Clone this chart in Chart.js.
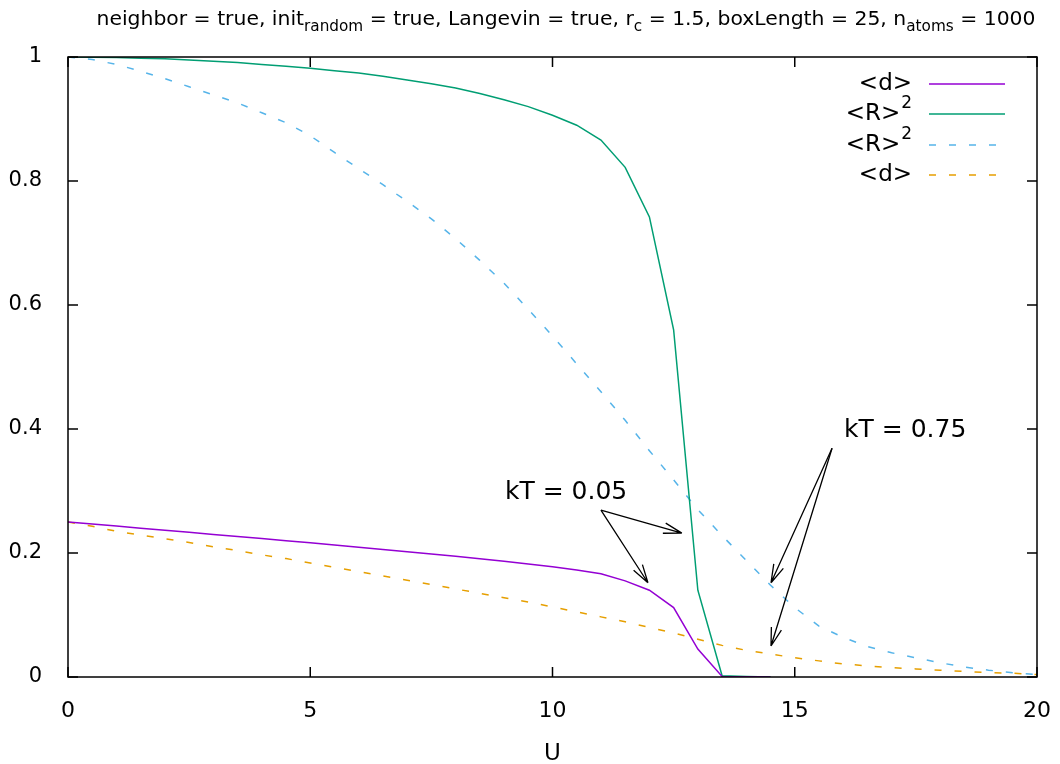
<!DOCTYPE html>
<html>
<head>
<meta charset="utf-8">
<script src="https://cdn.jsdelivr.net/npm/chart.js@4/dist/chart.umd.min.js"></script>
<style>
  html, body { margin: 0; padding: 0; background: #fff; }
  #wrap { width: 1060px; height: 764px; }
</style>
</head>
<body>
<div id="wrap"><canvas id="myChart"></canvas></div>
<script>
// kT = 0.05 (solid lines)
const uCold = [0, 0.5, 1, 1.5, 2, 2.5, 3, 3.5, 4, 4.5, 5, 5.5, 6, 6.5, 7, 7.5, 8, 8.5, 9, 9.5,
               10, 10.5, 11, 11.5, 12, 12.5, 13, 13.5, 14, 14.5];
const dCold = [0.250, 0.2467, 0.2434, 0.2401, 0.2367, 0.2333, 0.2300, 0.2266, 0.2232, 0.2198,
               0.2164, 0.2129, 0.2094, 0.2058, 0.2022, 0.1985, 0.1947, 0.1907, 0.1866, 0.1823,
               0.1777, 0.1725, 0.1664, 0.155, 0.140, 0.112, 0.045, 0.001, 0.0005, 0];
const rCold = [1.0, 0.9995, 0.999, 0.998, 0.997, 0.995, 0.993, 0.991, 0.988, 0.985,
               0.982, 0.978, 0.974, 0.969, 0.963, 0.957, 0.950, 0.941, 0.931, 0.920,
               0.906, 0.890, 0.866, 0.822, 0.742, 0.560, 0.140, 0.002, 0.001, 0];

// kT = 0.75 (dashed lines)
const uHot = [0, 0.5, 1, 1.5, 2, 2.5, 3, 3.5, 4, 4.5, 5, 5.5, 6, 6.5, 7, 7.5, 8, 8.5, 9, 9.5,
              10, 10.5, 11, 11.5, 12, 12.5, 13, 13.5, 14, 14.5, 15, 15.5, 16, 16.5, 17, 17.5,
              18, 18.5, 19, 19.5, 20];
const rHot = [1.0, 0.996, 0.988, 0.977, 0.965, 0.952, 0.939, 0.926, 0.910, 0.894,
              0.873, 0.846, 0.820, 0.794, 0.767, 0.739, 0.707, 0.672, 0.635, 0.593,
              0.550, 0.505, 0.460, 0.414, 0.365, 0.318, 0.270, 0.228, 0.188, 0.148,
              0.112, 0.082, 0.064, 0.049, 0.039, 0.031, 0.023, 0.016, 0.011, 0.007, 0.004];
const dHot = [0.250, 0.243, 0.235, 0.229, 0.223, 0.217, 0.210, 0.204, 0.197, 0.191,
              0.184, 0.177, 0.170, 0.163, 0.156, 0.149, 0.142, 0.135, 0.128, 0.121,
              0.113, 0.105, 0.097, 0.089, 0.080, 0.071, 0.061, 0.051, 0.043, 0.037,
              0.031, 0.026, 0.021, 0.018, 0.015, 0.013, 0.011, 0.009, 0.007, 0.006, 0.004];

const xTicks = [0, 5, 10, 15, 20];
const yTicks = [0, 0.2, 0.4, 0.6, 0.8, 1];

const legendLabels = ['<d>', '<R>', '<R>', '<d>'];
const legendSup = ['', '2', '2', ''];

// annotations: label position and arrow [from, to] in data coords
const notes = [
  {text: 'kT = 0.05', at: [10.28, 0.297], arrows: [[[11.0, 0.269], [11.97, 0.152]], [[11.0, 0.269], [12.67, 0.232]]]},
  {text: 'kT = 0.75', at: [17.28, 0.398], arrows: [[[15.77, 0.369], [14.51, 0.152]], [[15.77, 0.369], [14.51, 0.05]]]},
];

const FONT = '"DejaVu Sans", sans-serif';

function pts(xs, ys) { return xs.map((x, i) => ({x: x, y: ys[i]})); }

let datasets = [
  {label: '<d>', data: pts(uCold, dCold), borderColor: '#9400d3', borderWidth: 1.5},
  {label: '<R>^2', data: pts(uCold, rCold), borderColor: '#009e73', borderWidth: 1.5},
  {label: '<R>^2', data: pts(uHot, rHot), borderColor: '#56b4e9', borderWidth: 1.5, borderDash: [7, 13]},
  {label: '<d>', data: pts(uHot, dHot), borderColor: '#e69f00', borderWidth: 1.5, borderDash: [7, 13]},
];
datasets.forEach(d => { d.pointRadius = 0; d.fill = false; d.tension = 0; });

// title with subscripts, frame with inward ticks, legend, arrows
const decor = {
  id: 'decor',
  afterDatasetsDraw(chart) {
    const ctx = chart.ctx, a = chart.chartArea;
    const xs = chart.scales.x, ys = chart.scales.y;
    ctx.save();

    // frame + mirrored inward ticks
    ctx.strokeStyle = '#000';
    ctx.lineWidth = 1.5;
    ctx.strokeRect(a.left, a.top, a.right - a.left, a.bottom - a.top);
    ctx.beginPath();
    xTicks.forEach(v => {
      const px = xs.getPixelForValue(v);
      ctx.moveTo(px, a.bottom); ctx.lineTo(px, a.bottom - 10);
      ctx.moveTo(px, a.top); ctx.lineTo(px, a.top + 10);
    });
    yTicks.forEach(v => {
      const py = ys.getPixelForValue(v);
      ctx.moveTo(a.left, py); ctx.lineTo(a.left + 10, py);
      ctx.moveTo(a.right, py); ctx.lineTo(a.right - 10, py);
    });
    ctx.stroke();

    // legend
    ctx.fillStyle = '#000';
    ctx.textBaseline = 'middle';
    const rows = [84, 114, 145, 175];
    datasets.forEach((d, i) => {
      const y = rows[i];
      let right = 912;
      if (legendSup[i]) {
        ctx.font = '17px ' + FONT;
        const w = ctx.measureText(legendSup[i]).width;
        ctx.textAlign = 'left';
        ctx.fillText(legendSup[i], right - w, y - 10);
        right -= w + 1;
      }
      ctx.font = '23px ' + FONT;
      ctx.textAlign = 'right';
      ctx.fillText(legendLabels[i], right, y);
      ctx.strokeStyle = d.borderColor;
      ctx.lineWidth = 1.5;
      ctx.setLineDash(d.borderDash || []);
      ctx.beginPath();
      ctx.moveTo(929, y); ctx.lineTo(1005, y);
      ctx.stroke();
      ctx.setLineDash([]);
    });

    // annotations with open arrow heads
    ctx.font = '25px ' + FONT;
    ctx.textAlign = 'center';
    ctx.fillStyle = '#000';
    ctx.strokeStyle = '#000';
    ctx.lineWidth = 1.3;
    notes.forEach(n => {
      ctx.fillText(n.text, xs.getPixelForValue(n.at[0]), ys.getPixelForValue(n.at[1]));
      n.arrows.forEach(([p, q]) => {
        const x1 = xs.getPixelForValue(p[0]), y1 = ys.getPixelForValue(p[1]);
        const x2 = xs.getPixelForValue(q[0]), y2 = ys.getPixelForValue(q[1]);
        const ang = Math.atan2(y2 - y1, x2 - x1);
        ctx.beginPath();
        ctx.moveTo(x1, y1); ctx.lineTo(x2, y2);
        [-1, 1].forEach(s => {
          const t = ang + Math.PI + s * 0.28;
          ctx.moveTo(x2, y2);
          ctx.lineTo(x2 + 19 * Math.cos(t), y2 + 19 * Math.sin(t));
        });
        ctx.stroke();
      });
    });

    // title
    const parts = [
      ['neighbor = true, init', 0], ['random', 1], [' = true, Langevin = true, r', 0], ['c', 1],
      [' = 1.5, boxLength = 25, n', 0], ['atoms', 1], [' = 1000', 0]
    ];
    const fontFor = s => s ? '15px ' + FONT : '20px ' + FONT;
    let total = 0;
    parts.forEach(([t, s]) => { ctx.font = fontFor(s); total += ctx.measureText(t).width; });
    // stretch horizontally to the reference width
    const sx = 939 / total;
    ctx.translate(566 - total * sx / 2, 0);
    ctx.scale(sx, 1);
    let x = 0;
    ctx.textAlign = 'left';
    ctx.textBaseline = 'alphabetic';
    parts.forEach(([t, s]) => {
      ctx.font = fontFor(s);
      ctx.fillText(t, x, s ? 31 : 25);
      x += ctx.measureText(t).width;
    });
    ctx.restore();
  }
};

const ctx = document.getElementById('myChart');

new Chart(ctx, {
  type: 'line',
  data: {datasets: datasets},
  plugins: [decor],
  options: {
    responsive: true,
    maintainAspectRatio: false,
    animation: false,
    layout: {padding: {top: 57, right: 23, left: 0, bottom: 0}},
    plugins: {legend: {display: false}, tooltip: {enabled: false}},
    scales: {
      x: {
        type: 'linear', min: 0, max: 20,
        grid: {display: false}, border: {display: false},
        afterBuildTicks: s => { s.ticks = xTicks.map(v => ({value: v})); },
        afterFit: s => { s.height = 87; s.paddingLeft = 0; s.paddingRight = 0; },
        ticks: {color: '#000', padding: 13, maxRotation: 0, font: {family: FONT, size: 22}},
        title: {display: true, text: 'U', color: '#000', padding: {top: 0, bottom: -4}, font: {family: FONT, size: 23}}
      },
      y: {
        min: 0, max: 1,
        grid: {display: false}, border: {display: false},
        afterBuildTicks: s => { s.ticks = yTicks.map(v => ({value: v})); },
        afterFit: s => { s.width = 68; s.paddingTop = 0; s.paddingBottom = 0; },
        ticks: {color: '#000', padding: 18, font: {family: FONT, size: 21},
                callback: v => String(Math.round(v * 10) / 10)}
      }
    }
  }
});
</script>
</body>
</html>
